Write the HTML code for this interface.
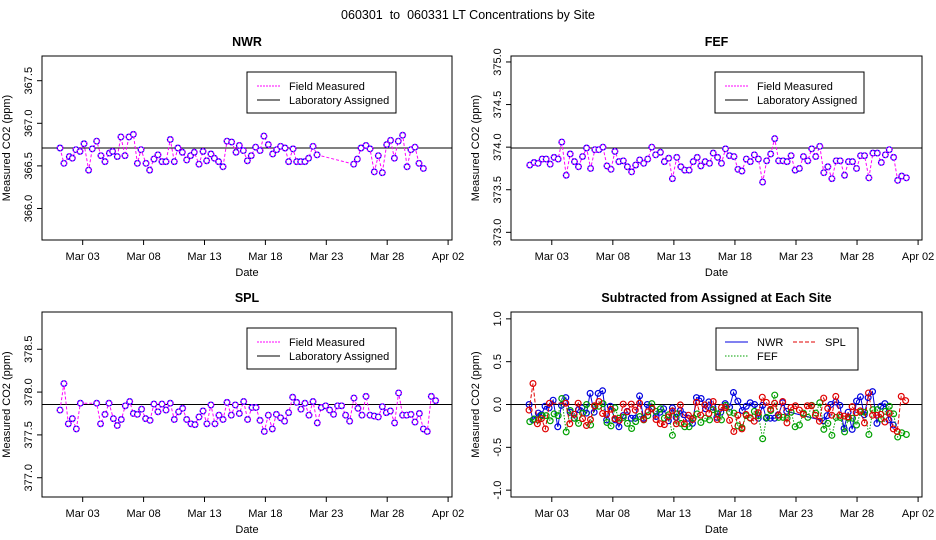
<!DOCTYPE html>
<html><head><meta charset="utf-8">
<style>
html,body{margin:0;padding:0;background:#fff;}
svg{display:block;font-family:"Liberation Sans",sans-serif;}
</style></head>
<body>
<svg id="chart" width="936" height="540" viewBox="0 0 936 540" xmlns="http://www.w3.org/2000/svg">
<text x="468" y="19" font-size="12.5" text-anchor="middle" style="white-space:pre" xml:space="preserve">060301  to  060331 LT Concentrations by Site</text>
</svg>
<script>
// ---- data (day of March, value) ----
const nwrDays=[1.14,1.46,1.90,2.15,2.45,2.78,3.11,3.49,3.79,4.15,4.50,4.83,5.19,5.46,5.84,6.14,6.47,6.80,7.16,7.49,7.79,8.20,8.50,8.85,9.18,9.51,9.84,10.19,10.52,10.82,11.18,11.54,11.86,12.16,12.55,12.88,13.18,13.53,13.81,14.16,14.52,14.85,15.23,15.59,15.86,16.19,16.52,16.84,17.20,17.56,17.88,18.24,18.60,18.93,19.25,19.61,19.91,20.27,20.57,20.90,21.25,21.55,21.91,22.24,25.25,25.55,25.85,26.26,26.59,26.94,27.27,27.60,27.96,28.28,28.59,28.91,29.27,29.63,29.95,30.28,30.61,30.97];
const nwrVals=[366.71,366.53,366.61,366.59,366.69,366.67,366.76,366.45,366.70,366.79,366.62,366.55,366.65,366.67,366.61,366.84,366.62,366.84,366.87,366.53,366.69,366.53,366.45,366.58,366.63,366.55,366.55,366.81,366.55,366.71,366.66,366.57,366.62,366.66,366.52,366.67,366.56,366.64,366.59,366.55,366.49,366.79,366.78,366.66,366.74,366.68,366.56,366.62,366.72,366.68,366.85,366.75,366.64,366.69,366.73,366.71,366.55,366.70,366.55,366.55,366.55,366.59,366.73,366.63,366.52,366.58,366.71,366.74,366.70,366.43,366.62,366.42,366.75,366.80,366.59,366.79,366.86,366.49,366.69,366.72,366.53,366.47];
const nwrAssigned=366.71;
const fefDays=[1.20,1.55,1.88,2.21,2.54,2.87,3.19,3.52,3.82,4.18,4.51,4.86,5.19,5.52,5.85,6.18,6.53,6.86,7.19,7.52,7.85,8.17,8.50,8.86,9.19,9.54,9.87,10.20,10.53,10.86,11.19,11.51,11.90,12.22,12.58,12.88,13.24,13.57,13.89,14.25,14.58,14.91,15.21,15.56,15.92,16.22,16.58,16.90,17.23,17.56,17.92,18.25,18.57,18.93,19.26,19.59,19.92,20.27,20.60,20.93,21.26,21.58,21.94,22.27,22.60,22.93,23.28,23.61,23.97,24.29,24.62,24.95,25.28,25.61,25.94,26.29,26.62,26.98,27.30,27.63,27.96,28.29,28.62,28.97,29.30,29.66,29.99,30.32,30.64,31.00,31.33,31.66,32.04];
const fefVals=[373.79,373.82,373.81,373.86,373.86,373.80,373.88,373.86,374.06,373.67,373.92,373.83,373.77,373.89,373.99,373.75,373.97,373.97,374.00,373.78,373.74,373.95,373.83,373.84,373.77,373.71,373.79,373.85,373.81,373.86,374.00,373.91,373.94,373.83,373.87,373.63,373.88,373.77,373.73,373.73,373.83,373.88,373.78,373.83,373.81,373.93,373.88,373.81,373.98,373.90,373.89,373.74,373.72,373.86,373.83,373.91,373.86,373.59,373.84,373.92,374.10,373.84,373.84,373.83,373.90,373.73,373.75,373.89,373.84,373.98,373.89,374.01,373.70,373.77,373.63,373.84,373.84,373.67,373.83,373.83,373.75,373.90,373.90,373.64,373.93,373.93,373.82,373.91,373.97,373.88,373.61,373.66,373.64];
const fefAssigned=373.99;
const splDays=[1.14,1.46,1.82,2.15,2.48,2.81,4.15,4.47,4.83,5.16,5.52,5.84,6.17,6.50,6.86,7.16,7.49,7.84,8.17,8.53,8.85,9.18,9.51,9.84,10.19,10.52,10.88,11.21,11.54,11.89,12.22,12.55,12.88,13.20,13.53,13.86,14.19,14.52,14.85,15.20,15.53,15.86,16.22,16.54,16.90,17.23,17.56,17.91,18.24,18.57,18.90,19.25,19.58,19.91,20.24,20.57,20.92,21.25,21.58,21.91,22.26,22.59,22.95,23.28,23.60,23.93,24.26,24.59,24.92,25.27,25.60,25.93,26.26,26.59,26.94,27.27,27.60,27.93,28.26,28.61,28.94,29.27,29.60,29.95,30.28,30.64,30.97,31.29,31.62,31.98];
const splVals=[377.79,378.10,377.63,377.69,377.57,377.87,377.87,377.63,377.74,377.87,377.69,377.61,377.68,377.84,377.89,377.75,377.74,377.80,377.69,377.67,377.86,377.77,377.86,377.79,377.87,377.68,377.77,377.81,377.68,377.63,377.62,377.71,377.78,377.63,377.85,377.63,377.73,377.68,377.88,377.73,377.85,377.75,377.89,377.68,377.82,377.82,377.67,377.54,377.73,377.57,377.74,377.70,377.66,377.76,377.94,377.88,377.80,377.87,377.73,377.89,377.64,377.82,377.84,377.79,377.74,377.84,377.84,377.73,377.66,377.93,377.81,377.73,377.95,377.73,377.72,377.71,377.83,377.76,377.78,377.64,377.99,377.73,377.73,377.74,377.65,377.75,377.57,377.54,377.95,377.90];
const splAssigned=377.855;
const xTickDays=[3,8,13,18,23,28,33];
const xTickLabels=["Mar 03","Mar 08","Mar 13","Mar 18","Mar 23","Mar 28","Apr 02"];
const nwrTicks=[366.0,366.5,367.0,367.5];
const fefTicks=[373.0,373.5,374.0,374.5,375.0];
const splTicks=[377.0,377.5,378.0,378.5];
const diffTicks=[-1.0,-0.5,0.0,0.5,1.0];

const NS="http://www.w3.org/2000/svg";
const svg=document.getElementById('chart');
function mk(tag,attrs,parent){const e=document.createElementNS(NS,tag);for(const k in attrs)e.setAttribute(k,attrs[k]);(parent||svg).appendChild(e);return e;}
const XMIN=-0.34,XMAX=33.32;

function panel(name,title,L,T,R,B,center,ticks,drawFn,legendFn){
  const g=mk('g',{});
  
  
  const xs=d=>L+(d-XMIN)/(XMAX-XMIN)*(R-L);
  const ys=v=>B-(v-(center-1.08))/2.16*(B-T);
  const t=mk('text',{x:(L+R)/2,y:T-10,'font-size':12.5,'font-weight':'bold','text-anchor':'middle'},g);
  t.textContent=title;
  
  
  const fr=mk('rect',{x:L,y:T,width:R-L,height:B-T,fill:'none',stroke:'#000','stroke-width':1},g);
  
  
  const xa=mk('g',{},g);
  
  
  xTickDays.forEach((d,i)=>{const x=xs(d);
    mk('line',{x1:x,y1:B,x2:x,y2:B+5,stroke:'#000'},xa);
    const tl=mk('text',{x:x,y:B+20,'font-size':11,'text-anchor':'middle'},xa);tl.textContent=xTickLabels[i];
    
    });
  const xl=mk('text',{x:(L+R)/2,y:B+36,'font-size':11,'text-anchor':'middle'},g);xl.textContent='Date';
  
  
  const ya=mk('g',{},g);
  
  
  ticks.forEach(v=>{const y=ys(v);
    mk('line',{x1:L-5,y1:y,x2:L,y2:y,stroke:'#000'},ya);
    const tl=mk('text',{x:L-10,y:y,'font-size':11,'text-anchor':'middle',transform:`rotate(-90 ${L-10} ${y})`},ya);
    tl.textContent=v.toFixed(1);
    
    });
  const yl=mk('text',{x:L-32,y:(T+B)/2,'font-size':11,'text-anchor':'middle',transform:`rotate(-90 ${L-32} ${(T+B)/2})`},g);
  yl.textContent='Measured CO2 (ppm)';
  
  
  drawFn(g,xs,ys);
  legendFn(g);
}

function siteSeries(days,vals,assigned){
  return (g,xs,ys)=>{
    const al=mk('line',{x1:xs(XMIN),x2:xs(XMAX),y1:ys(assigned),y2:ys(assigned),stroke:'#000','stroke-width':1},g);
    
    
    const pts=days.map((d,i)=>xs(d).toFixed(1)+','+ys(vals[i]).toFixed(1)).join(' ');
    const pl=mk('polyline',{points:pts,fill:'none',stroke:'#ff00ff','stroke-width':1,'stroke-dasharray':'3 2'},g);
    
    
    days.forEach((d,i)=>{
      const c=mk('circle',{cx:xs(d),cy:ys(vals[i]),r:2.8,fill:'#fff',stroke:'#0000ff','stroke-width':1.3},g);
      
      
      mk('circle',{cx:xs(d),cy:ys(vals[i]),r:2.8,fill:'none',stroke:'#ff00ff','stroke-width':1.1,'stroke-dasharray':'1.5 1.5'},g);
    });
  };
}
function siteLegend(x,y){
  return g=>{
    const lg=mk('g',{},g);
    
    
    mk('rect',{x:x,y:y,width:149,height:41,fill:'#fff',stroke:'#000'},lg);
    mk('line',{x1:x+10,x2:x+33,y1:y+14,y2:y+14,stroke:'#ff00ff','stroke-dasharray':'2 1'},lg);
    const t1=mk('text',{x:x+42,y:y+18,'font-size':11},lg);t1.textContent='Field Measured';
    
    
    mk('line',{x1:x+10,x2:x+33,y1:y+28,y2:y+28,stroke:'#000'},lg);
    const t2=mk('text',{x:x+42,y:y+32,'font-size':11},lg);t2.textContent='Laboratory Assigned';
    
    
  };
}

panel('nwr','NWR',42,56,452,240,nwrAssigned,nwrTicks,siteSeries(nwrDays,nwrVals,nwrAssigned),siteLegend(247,72));
panel('fef','FEF',511,56,922,240,fefAssigned,fefTicks,siteSeries(fefDays,fefVals,fefAssigned),siteLegend(715,72));
panel('spl','SPL',42,312,452,497,splAssigned,splTicks,siteSeries(splDays,splVals,splAssigned),siteLegend(247,328));

const diffSeries=[
  {n:'nwr',days:nwrDays,vals:nwrVals,a:nwrAssigned,col:'#0000e0',dash:'none'},
  {n:'fef',days:fefDays,vals:fefVals,a:fefAssigned,col:'#00a000',dash:'1.5 1.5'},
  {n:'spl',days:splDays,vals:splVals,a:splAssigned,col:'#e00000',dash:'4 2'}];
panel('diff','Subtracted from Assigned at Each Site',511,312,922,497,0,diffTicks,(g,xs,ys)=>{
  const zl=mk('line',{x1:xs(XMIN),x2:xs(XMAX),y1:ys(0),y2:ys(0),stroke:'#000'},g);
  
  
  diffSeries.forEach(s=>{
    const sg=mk('g',{},g);
    
    
    const pts=s.days.map((d,i)=>xs(d).toFixed(1)+','+ys(s.vals[i]-s.a).toFixed(1)).join(' ');
    mk('polyline',{points:pts,fill:'none',stroke:s.col,'stroke-width':1,'stroke-dasharray':s.dash},sg);
    s.days.forEach((d,i)=>{
      const c=mk('circle',{cx:xs(d),cy:ys(s.vals[i]-s.a),r:2.9,fill:'none',stroke:s.col,'stroke-width':1.2},sg);
      
      
    });
  });
},g=>{
  const lg=mk('g',{},g);
  
  
  mk('rect',{x:716,y:328,width:142,height:42,fill:'#fff',stroke:'#000'},lg);
  const items=[['NWR',725,342,'#0000e0','none'],['SPL',793,342,'#e00000','4 2'],['FEF',725,356,'#00a000','1.5 1.5']];
  items.forEach(it=>{
    mk('line',{x1:it[1],x2:it[1]+23,y1:it[2],y2:it[2],stroke:it[3],'stroke-dasharray':it[4]},lg);
    const t=mk('text',{x:it[1]+32,y:it[2]+4,'font-size':11},lg);t.textContent=it[0];
    
    
  });
});
</script>
</body></html>
